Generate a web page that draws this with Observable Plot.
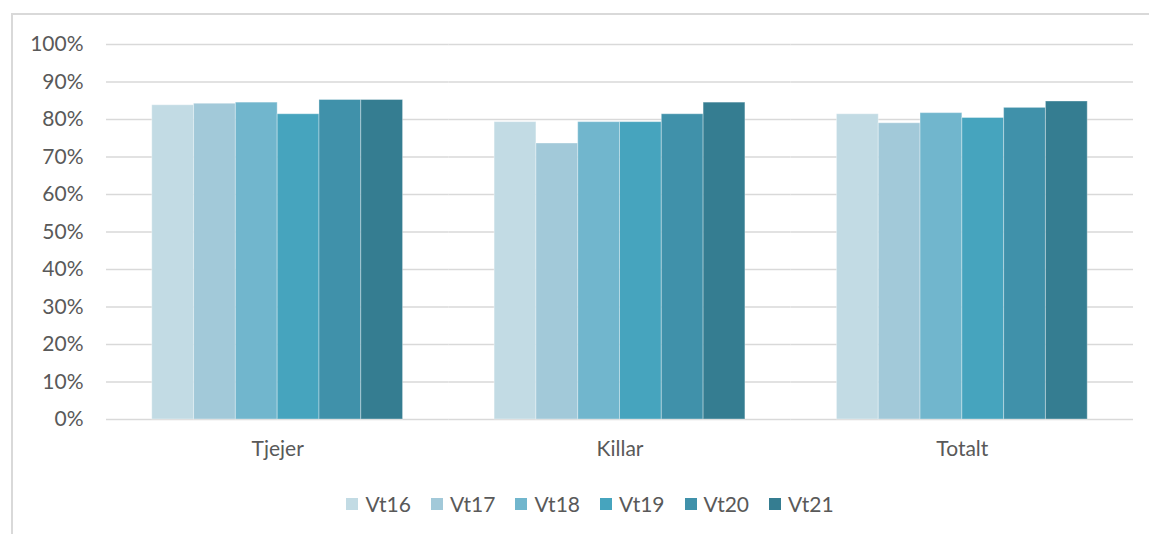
<!DOCTYPE html>
<html><head><meta charset="utf-8">
<script src="https://cdn.jsdelivr.net/npm/d3@7"></script>
<script src="https://cdn.jsdelivr.net/npm/@observablehq/plot@0.6"></script>
<style>
body{margin:0;background:#fff;width:1149px;height:534px;overflow:hidden;position:relative;font-family:Lato,sans-serif}
#frame{position:absolute;left:11px;top:13px;width:1300px;height:700px;border-top:2px solid #d9d9d9;border-left:2px solid #d9d9d9;box-sizing:border-box}
#chart{position:absolute;left:0;top:0}
#legend{position:absolute;left:0;top:491px;width:1149px;display:flex;justify-content:center}
#legend .lg-swatches{display:flex;justify-content:center;margin:0 0 0 51px !important;min-height:0 !important;font-family:Lato,sans-serif !important;font-size:21px !important;color:#595959 !important}
#legend .lg-swatch{margin-right:20px !important;display:inline-flex;align-items:center}
#legend .lg-swatch svg{margin-right:7px !important}
</style>
</head><body>
<div id="frame"></div>
<div id="chart"></div>
<div id="legend"></div>
<script>
const categories = ["Tjejer", "Killar", "Totalt"];
const series = ["Vt16", "Vt17", "Vt18", "Vt19", "Vt20", "Vt21"];
const vt16 = [0.838, 0.793, 0.814];
const vt17 = [0.842, 0.736, 0.790];
const vt18 = [0.845, 0.793, 0.817];
const vt19 = [0.814, 0.793, 0.804];
const vt20 = [0.852, 0.814, 0.831];
const vt21 = [0.852, 0.845, 0.848];
const yTicks = [0, 0.1, 0.2, 0.3, 0.4, 0.5, 0.6, 0.7, 0.8, 0.9, 1.0];
const colors = ["#c2dbe4", "#a2c9d9", "#71b6cd", "#46a4be", "#4091aa", "#357d91"];

const valuesBySeries = [vt16, vt17, vt18, vt19, vt20, vt21];
const data = [];
series.forEach((s, i) => categories.forEach((c, j) => data.push({category: c, series: s, value: valuesBySeries[i][j]})));

const chart = Plot.plot({
  width: 1149,
  height: 480,
  marginLeft: 106,
  marginRight: 16,
  marginTop: 44,
  marginBottom: 61,
  style: {fontFamily: "Lato, sans-serif", fontSize: "21px", color: "#595959", background: "transparent"},
  fx: {domain: categories, padding: 0, label: null, round: false},
  x: {domain: series, paddingInner: 0, paddingOuter: 1.095, axis: null, round: false},
  y: {domain: [0, 1], label: null},
  color: {domain: series, range: colors},
  marks: [
    Plot.gridY(yTicks, {stroke: "#d9d9d9", strokeOpacity: 1, strokeWidth: 1.5}),
    Plot.barY(data, {fx: "category", x: "series", y: "value", fill: "series", stroke: "#ffffff", strokeOpacity: 0.35, strokeWidth: 1}),
    Plot.axisY(yTicks, {tickSize: 0, tickPadding: 23, tickFormat: d3.format(".0%"), label: null, fill: "#595959"}),
    Plot.axisFx({anchor: "bottom", tickSize: 0, tickPadding: 22, label: null, fill: "#595959"})
  ]
});
document.getElementById("chart").appendChild(chart);

const legend = Plot.legend({
  color: {domain: series, range: colors},
  legend: "swatches",
  swatchSize: 12,
  className: "lg"
});
document.getElementById("legend").appendChild(legend);
</script>
</body></html>
